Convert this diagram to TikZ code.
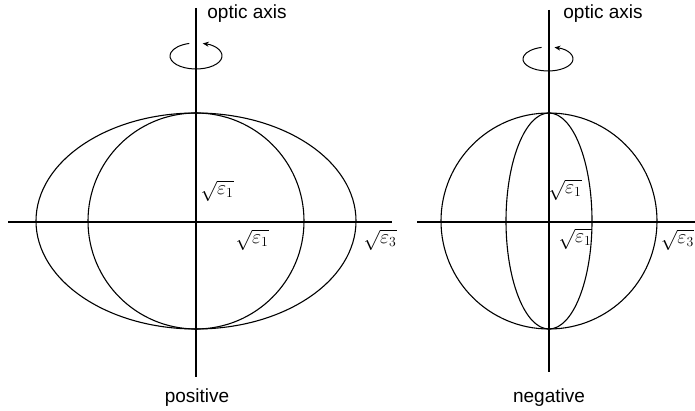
\documentclass[tikz,border=0pt]{standalone}
\usepackage{fontspec}
\setmainfont{Liberation Sans}
\usetikzlibrary{arrows.meta}
\begin{document}
\begin{tikzpicture}[x=1pt,y=-1pt,line width=1.1pt,
  txt/.style={font=\fontsize{19}{22}\selectfont,inner sep=0pt},
  lab/.style={font=\fontsize{17}{20}\selectfont,inner sep=0pt,scale=1.15},
  spin/.style={line width=1pt,{Stealth[length=6pt,width=5pt]}-}]
\useasboundingbox (0,0) rectangle (695,411);
% ---------- left: positive ----------
\coordinate (LO) at (196,221);
\coordinate (Lt) at (196,8);
\coordinate (Lb) at (196,377);
\coordinate (Ll) at (8,222);
\coordinate (Lr) at (392,222);
\coordinate (Ls) at (196,56);
\draw (Ll) -- (Lr);
\draw (Lt) -- (Lb);
\draw (LO) ellipse [x radius=160,y radius=108];
\draw (LO) circle [radius=108];
\draw[spin] (Ls) ++(-75:26 and 13) arc[start angle=-75,end angle=255,x radius=26,y radius=13];
\node[txt] (Lax) at (247,14) {optic axis};
\node[txt] (Lname) at (197,398) {positive};
\node[lab] (L1) at (217,191) {$\sqrt{\varepsilon_1}$};
\node[lab] (L2) at (252,240) {$\sqrt{\varepsilon_1}$};
\node[lab] (L3) at (380,240) {$\sqrt{\varepsilon_3}$};
% ---------- right: negative ----------
\coordinate (RO) at (549,221);
\coordinate (Rt) at (549,10);
\coordinate (Rb) at (549,372);
\coordinate (Rl) at (417,222);
\coordinate (Rr) at (695,222);
\coordinate (Rs) at (548,59);
\draw (Rl) -- (Rr);
\draw (Rt) -- (Rb);
\draw (RO) circle [radius=108];
\draw (RO) ellipse [x radius=43,y radius=108];
\draw[spin] (Rs) ++(-75:25 and 12) arc[start angle=-75,end angle=255,x radius=25,y radius=12];
\node[txt] (Rax) at (603,14) {optic axis};
\node[txt] (Rname) at (549,398) {negative};
\node[lab] (R1) at (565,190) {$\sqrt{\varepsilon_1}$};
\node[lab] (R2) at (575,239) {$\sqrt{\varepsilon_1}$};
\node[lab,anchor=east] (R3) at (694.5,240) {$\sqrt{\varepsilon_3}$};
\end{tikzpicture}
\end{document}
